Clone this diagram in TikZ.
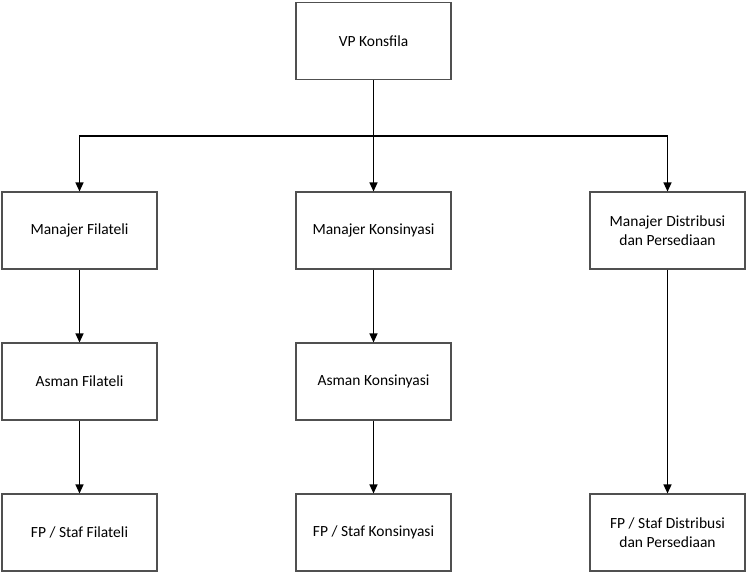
\documentclass[tikz,border=0pt]{standalone}
\usepackage{fontspec}
\setmainfont{Carlito}
\usetikzlibrary{arrows.meta}
\definecolor{boxline}{RGB}{80,80,80}

\begin{document}
\begin{tikzpicture}[x=1pt,y=1pt,
    unit/.style={draw=boxline,line width=1.1pt,minimum width=155pt,minimum height=77pt,
      align=center,font=\fontsize{15.5}{18.5}\selectfont,inner sep=2pt},
    link/.style={line width=1.3pt,-{Triangle[width=8pt,length=9pt]}}]
      \useasboundingbox (0,0) rectangle (747,-573);
      \node[unit] (vp) at (373.5,-41) {VP Konsfila};
      \node[unit] (mfil) at (79.5,-230.5) {Manajer Filateli};
      \node[unit] (mkon) at (373.5,-230.5) {Manajer Konsinyasi};
      \node[unit] (mdis) at (667.5,-230.5) {Manajer Distribusi\\dan Persediaan};
      \node[unit] (afil) at (79.5,-381.5) {Asman Filateli};
      \node[unit] (akon) at (373.5,-381.5) {Asman Konsinyasi};
      \node[unit] (sfil) at (79.5,-532.5) {FP / Staf Filateli};
      \node[unit] (skon) at (373.5,-532.5) {FP / Staf Konsinyasi};
      \node[unit] (sdis) at (667.5,-532.5) {FP / Staf Distribusi\\dan Persediaan};
      \coordinate (bar) at (373.5,-136);
      \draw[line width=1.3pt] (vp.south) -- (bar);
      \draw[link] (bar) -| (mfil.north);
      \draw[link] (bar) -- (mkon.north);
      \draw[link] (bar) -| (mdis.north);
      \draw[link] (mfil) -- (afil);
      \draw[link] (afil) -- (sfil);
      \draw[link] (mkon) -- (akon);
      \draw[link] (akon) -- (skon);
      \draw[link] (mdis) -- (sdis);
\end{tikzpicture}
\end{document}
